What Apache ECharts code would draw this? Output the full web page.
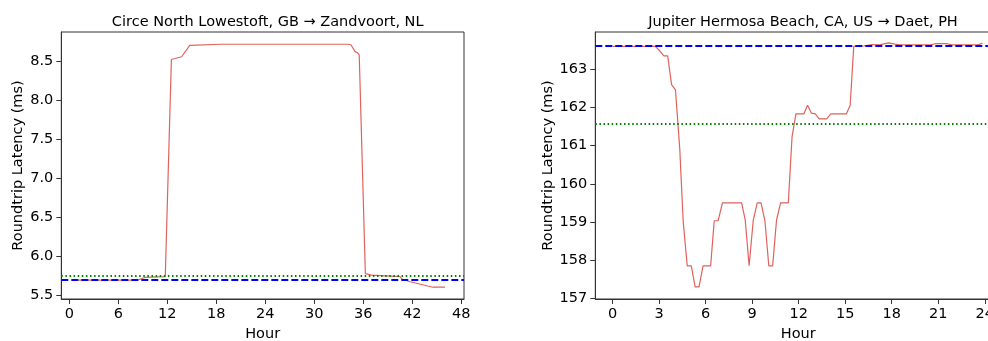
<!DOCTYPE html>
<html>
<head>
<meta charset="utf-8">
<script src="https://cdn.jsdelivr.net/npm/echarts@6/dist/echarts.min.js"></script>
<style>
html,body{margin:0;padding:0;background:#fff;}
#c{width:988px;height:341px;}
</style>
</head>
<body>
<div id="c"></div>
<script>
// ---------- data ----------
const leftTitle = 'Circe North Lowestoft, GB \u2192 Zandvoort, NL';
const rightTitle = 'Jupiter Hermosa Beach, CA, US \u2192 Daet, PH';

const leftHours = [1.0, 8.0, 8.5, 9.25, 11.75, 12.5, 13.75, 14.75, 18.5, 34.25, 34.5, 35.0, 35.25, 35.5, 36.25, 37.0, 40.5, 40.75, 41.75, 44.5, 46.0];
const leftLatency = [5.69, 5.69, 5.695, 5.725, 5.735, 8.52, 8.555, 8.70, 8.715, 8.715, 8.705, 8.62, 8.61, 8.58, 5.775, 5.755, 5.735, 5.705, 5.67, 5.60, 5.60];
const leftMedian = 5.696;   // blue dashed
const leftMean = 5.752;     // green dotted

const rightHours = [0, 2.75, 3.0, 3.3, 3.55, 3.8, 4.05, 4.33, 4.55, 4.81, 5.07, 5.32, 5.57, 5.83, 6.32, 6.55, 6.8, 7.08, 8.32, 8.55, 8.8, 9.07, 9.32, 9.57, 9.82, 10.07, 10.32, 10.57, 10.83, 11.33, 11.57, 11.82, 12.33, 12.57, 12.82, 13.07, 13.32, 13.8, 14.07, 15.07, 15.32, 15.55, 16.2, 16.7, 17.2, 17.8, 18.2, 18.5, 20.5, 20.8, 21.6, 21.85, 23.6, 23.85];
const rightLatency = [163.60, 163.60, 163.50, 163.35, 163.35, 162.60, 162.46, 160.90, 159.00, 157.85, 157.85, 157.30, 157.30, 157.85, 157.85, 159.03, 159.03, 159.50, 159.50, 159.05, 157.85, 159.05, 159.50, 159.50, 159.03, 157.85, 157.85, 159.05, 159.50, 159.50, 161.23, 161.83, 161.83, 162.06, 161.85, 161.83, 161.70, 161.70, 161.83, 161.83, 162.06, 163.60, 163.61, 163.65, 163.64, 163.69, 163.66, 163.64, 163.64, 163.67, 163.67, 163.64, 163.64, 163.69];
const rightMedian = 163.62;
const rightMean = 161.57;

const leftXTicks = [0, 6, 12, 18, 24, 30, 36, 42, 48];
const leftYTicks = [5.5, 6.0, 6.5, 7.0, 7.5, 8.0, 8.5];
const rightXTicks = [0, 3, 6, 9, 12, 15, 18, 21, 24];
const rightYTicks = [157, 158, 159, 160, 161, 162, 163];

// ---------- chart ----------
const FONT = 'DejaVu Sans';
const FS = 14.5;
const AXIS_COLOR = '#333';
const LINE_COLOR = '#e0625c';

function pairs(xs, ys) { return xs.map((x, i) => [x, ys[i]]); }

function xAxisCfg(grid, min, max, ticks) {
  return {
    type: 'value', gridIndex: grid, min: min, max: max,
    name: 'Hour', nameLocation: 'middle', nameGap: 28,
    nameTextStyle: {fontFamily: FONT, fontSize: FS, color: '#000'},
    axisLine: {show: true, onZero: false, lineStyle: {color: AXIS_COLOR, width: 1}},
    axisTick: {show: true, length: 5, customValues: ticks, lineStyle: {color: AXIS_COLOR}},
    axisLabel: {customValues: ticks, margin: 8, fontFamily: FONT, fontSize: FS, color: '#000'},
    splitLine: {show: false}
  };
}
function yAxisCfg(grid, min, max, ticks, dec, gap) {
  return {
    type: 'value', gridIndex: grid, min: min, max: max,
    name: 'Roundtrip Latency (ms)', nameLocation: 'middle', nameGap: gap, nameRotate: 90,
    nameTextStyle: {fontFamily: FONT, fontSize: FS, color: '#000'},
    axisLine: {show: true, onZero: false, lineStyle: {color: AXIS_COLOR, width: 1}},
    axisTick: {show: true, length: 5, customValues: ticks, lineStyle: {color: AXIS_COLOR}},
    axisLabel: {customValues: ticks, margin: 8, fontFamily: FONT, fontSize: FS, color: '#000',
      formatter: v => v.toFixed(dec)},
    splitLine: {show: false}
  };
}
function refLines(median, mean) {
  return {
    silent: true, symbol: 'none', label: {show: false}, animation: false,
    data: [
      {yAxis: mean, lineStyle: {color: '#008000', type: [1.5, 2.6], width: 2}},
      {yAxis: median, lineStyle: {color: '#0000ff', type: [7, 3], width: 2}}
    ]
  };
}

const chart = echarts.init(document.getElementById('c'), null, {renderer: 'canvas'});
chart.setOption({
  animation: false,
  backgroundColor: '#fff',
  title: [
    {text: leftTitle, left: 262.7, top: 10, textAlign: 'center',
     textStyle: {fontFamily: FONT, fontSize: FS, fontWeight: 'normal', color: '#000'}},
    {text: rightTitle, left: 798, top: 10, textAlign: 'center',
     textStyle: {fontFamily: FONT, fontSize: FS, fontWeight: 'normal', color: '#000'}}
  ],
  grid: [
    {left: 61.3, top: 32, width: 402.7, height: 267, show: true, borderColor: AXIS_COLOR, borderWidth: 1,
     containLabel: false, outerBoundsMode: 'none'},
    {left: 595.3, top: 32, width: 405.9, height: 267, show: true, borderColor: AXIS_COLOR, borderWidth: 1,
     containLabel: false, outerBoundsMode: 'none'}
  ],
  xAxis: [
    xAxisCfg(0, -0.98, 48.33, leftXTicks),
    xAxisCfg(1, -1.12, 25.06, rightXTicks)
  ],
  yAxis: [
    yAxisCfg(0, 5.449, 8.872, leftYTicks, 1, 36),
    yAxisCfg(1, 156.98, 163.977, rightYTicks, 0, 40)
  ],
  series: [
    {type: 'line', xAxisIndex: 0, yAxisIndex: 0, data: pairs(leftHours, leftLatency),
     showSymbol: false, symbol: 'none', lineStyle: {color: LINE_COLOR, width: 1.2}, z: 2,
     markLine: refLines(leftMedian, leftMean)},
    {type: 'line', xAxisIndex: 1, yAxisIndex: 1, data: pairs(rightHours, rightLatency),
     showSymbol: false, symbol: 'none', lineStyle: {color: LINE_COLOR, width: 1.2}, z: 2,
     markLine: refLines(rightMedian, rightMean)}
  ]
});
</script>
</body>
</html>
